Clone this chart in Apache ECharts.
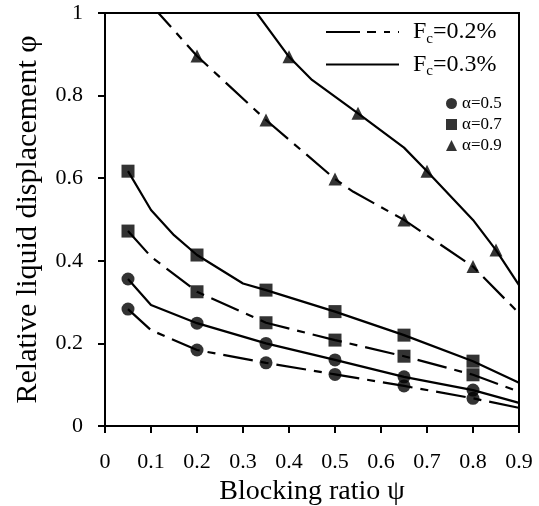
<!DOCTYPE html>
<html>
<head>
<meta charset="utf-8">
<script src="https://cdn.jsdelivr.net/npm/echarts@6/dist/echarts.min.js"></script>
<style>html,body{margin:0;padding:0;background:#fff}#c{width:539px;height:506px}</style>
</head>
<body>
<div id="c"></div>
<script>
// x positions of markers
const markerX = [0.05, 0.2, 0.35, 0.5, 0.65, 0.8];
const triX02 = [0.2, 0.35, 0.5, 0.65, 0.8];
const triX03 = [0.4, 0.55, 0.7, 0.85];

// marker values
const a05_f02 = [0.283, 0.184, 0.153, 0.125, 0.097, 0.067];
const a05_f03 = [0.356, 0.249, 0.200, 0.160, 0.119, 0.087];
const a07_f02 = [0.472, 0.325, 0.250, 0.208, 0.169, 0.124];
const a07_f03 = [0.617, 0.414, 0.329, 0.277, 0.220, 0.157];
const a09_f02 = [0.896, 0.741, 0.598, 0.499, 0.386];
const a09_f03 = [0.894, 0.757, 0.617, 0.426];

// curve points [psi, phi]
const line05_f02 = [[0.05,0.283],[0.1,0.232],[0.2,0.184],[0.35,0.153],[0.5,0.125],[0.65,0.097],[0.8,0.067],[0.9,0.044]];
const line05_f03 = [[0.05,0.356],[0.1,0.293],[0.2,0.249],[0.35,0.200],[0.5,0.160],[0.65,0.119],[0.8,0.087],[0.9,0.056]];
const line07_f02 = [[0.05,0.472],[0.1,0.410],[0.2,0.325],[0.35,0.250],[0.5,0.208],[0.65,0.169],[0.8,0.124],[0.9,0.083]];
const line07_f03 = [[0.05,0.617],[0.1,0.523],[0.15,0.462],[0.2,0.414],[0.3,0.345],[0.35,0.329],[0.5,0.277],[0.65,0.220],[0.8,0.157],[0.9,0.105]];
const line09_f02 = [[0.1,1.02],[0.2,0.896],[0.35,0.741],[0.5,0.598],[0.54,0.567],[0.65,0.499],[0.8,0.386],[0.9,0.273]];
const line09_f03 = [[0.3,1.045],[0.4,0.894],[0.45,0.838],[0.55,0.757],[0.65,0.674],[0.7,0.617],[0.8,0.499],[0.85,0.426],[0.9,0.341]];

const xTicks = ['0','0.1','0.2','0.3','0.4','0.5','0.6','0.7','0.8','0.9'];
const yTicks = ['0','0.2','0.4','0.6','0.8','1'];

const F02 = 'Fc=0.2%', F03 = 'Fc=0.3%';
const dashPat = [30, 8, 8, 8];
const font = 'Liberation Serif';

function lineSeries(name, data, dashed) {
  return {
    name, type: 'line', data, symbol: 'none', clip: true, z: 2,
    lineStyle: { color: '#000', width: 2.2, type: dashed ? dashPat : 'solid' },
    itemStyle: { color: '#000' }
  };
}
function scatterSeries(name, xs, ys, symbol, size) {
  return {
    name, type: 'scatter', symbol, symbolSize: size, z: 3,
    data: xs.map((x, i) => [x, ys[i]]),
    itemStyle: { color: '#000' }
  };
}

const chart = echarts.init(document.getElementById('c'));
chart.setOption({
  animation: false,
  backgroundColor: '#fff',
  grid: { left: 105, right: 20, top: 13, bottom: 80, show: true, borderColor: '#000', borderWidth: 2,
    outerBoundsMode: 'none', containLabel: false },
  xAxis: {
    type: 'value', min: 0, max: 0.9, interval: 0.1,
    name: 'Blocking ratio ψ', nameLocation: 'middle', nameGap: 50,
    nameTextStyle: { fontFamily: font, fontSize: 28, color: '#000', verticalAlign: 'top' },
    axisLine: { lineStyle: { color: '#000', width: 2 } },
    axisTick: { inside: false, length: 7, lineStyle: { color: '#000', width: 2 } },
    axisLabel: { fontFamily: font, fontSize: 22, color: '#000', margin: 25,
      formatter: v => xTicks[Math.round(v * 10)] },
    splitLine: { show: false }
  },
  yAxis: {
    type: 'value', min: 0, max: 1, interval: 0.2,
    name: 'Relative liquid displacement φ', nameLocation: 'middle', nameGap: 62,
    nameTextStyle: { fontFamily: font, fontSize: 30, color: '#000' },
    axisLine: { lineStyle: { color: '#000', width: 2 } },
    axisTick: { inside: false, length: 7, lineStyle: { color: '#000', width: 2 } },
    axisLabel: { fontFamily: font, fontSize: 22, color: '#000', margin: 22,
      formatter: v => yTicks[Math.round(v * 5)] },
    splitLine: { show: false }
  },
  legend: [
    {
      left: 320, top: 15, orient: 'vertical', itemWidth: 73, itemHeight: 14, itemGap: 6,
      itemStyle: { opacity: 0 },
      data: [
        { name: F02, lineStyle: { type: [34, 7, 9, 8, 6, 8] } },
        { name: F03 }
      ],
      formatter: n => 'F{sub|c}' + n.slice(2),
      textStyle: {
        fontFamily: font, fontSize: 24, color: '#000', padding: [0, 0, 0, 9],
        rich: { sub: { fontFamily: font, fontSize: 15, color: '#000', padding: [14, 0, 0, 0] } }
      }
    },
    {
      left: 441, top: 90, orient: 'vertical', itemWidth: 11, itemHeight: 11, itemGap: 4,
      data: ['α=0.5', 'α=0.7', 'α=0.9'],
      textStyle: { fontFamily: font, fontSize: 17, color: '#000' }
    }
  ],
  series: [
    lineSeries(F02, line05_f02, true),
    lineSeries(F03, line05_f03, false),
    lineSeries(F02, line07_f02, true),
    lineSeries(F03, line07_f03, false),
    lineSeries(F02, line09_f02, true),
    lineSeries(F03, line09_f03, false),
    scatterSeries('α=0.5', markerX, a05_f02, 'circle', 13),
    scatterSeries('α=0.5', markerX, a05_f03, 'circle', 13),
    scatterSeries('α=0.7', markerX, a07_f02, 'rect', 13),
    scatterSeries('α=0.7', markerX, a07_f03, 'rect', 13),
    scatterSeries('α=0.9', triX02, a09_f02, 'triangle', 13),
    scatterSeries('α=0.9', triX03, a09_f03, 'triangle', 13)
  ]
});
</script>
</body>
</html>
